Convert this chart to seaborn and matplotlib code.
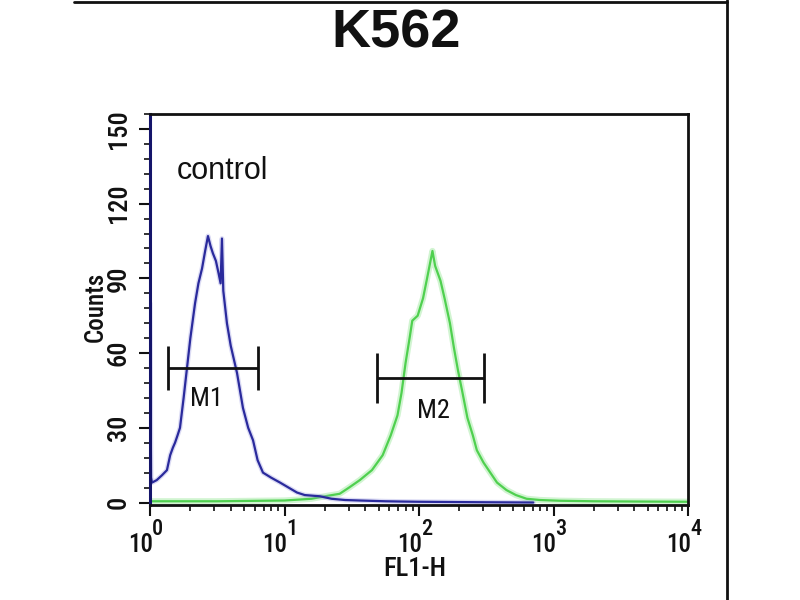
import numpy as np
import pandas as pd
import matplotlib
matplotlib.use("Agg")
import matplotlib.pyplot as plt
from matplotlib import font_manager
from matplotlib.font_manager import FontProperties
from matplotlib.lines import Line2D
from matplotlib.ticker import FixedLocator, AutoMinorLocator, LogLocator, NullFormatter
from matplotlib.transforms import blended_transform_factory, offset_copy
import seaborn as sns

# control histogram (blue), log10 of FL1-H channel and counts
blue_log_fl1 = [0.0, 0.008, 0.015, 0.05, 0.09, 0.126, 0.15, 0.17, 0.186, 0.205, 0.223,
                0.25, 0.275, 0.30, 0.335, 0.36, 0.387, 0.41, 0.431, 0.45, 0.468, 0.49,
                0.51, 0.525, 0.535, 0.545, 0.572, 0.60, 0.647, 0.691, 0.73, 0.766, 0.80,
                0.84, 0.90, 0.967, 1.03, 1.093, 1.15, 1.264, 1.35, 1.45, 1.56, 1.75,
                1.86, 2.0, 2.5, 2.85]
blue_counts = [80, 10, 8, 9, 11, 13, 19, 22, 24, 27, 30,
               42, 54, 66, 80, 88, 94, 101, 107, 103, 100, 97,
               92, 88, 106, 85, 72, 63, 52, 38, 30, 25, 17,
               12, 10, 8, 6, 4, 3, 2.5, 1.5, 1, 0.8, 0.5,
               0.4, 0.3, 0.1, 0]

# sample histogram (green)
green_log_fl1 = [0.0, 0.5, 1.0, 1.2, 1.30, 1.41, 1.48, 1.56, 1.65, 1.73, 1.79, 1.84,
                 1.87, 1.90, 1.93, 1.95, 1.99, 2.03, 2.06, 2.10, 2.12, 2.16, 2.19,
                 2.23, 2.26, 2.29, 2.32, 2.36, 2.40, 2.43, 2.48, 2.53, 2.58, 2.65,
                 2.72, 2.80, 2.9, 3.05, 3.3, 3.6, 4.0]
green_counts = [0.5, 0.5, 0.8, 1.5, 2.5, 3.5, 6, 9, 13, 19, 27, 35,
                44, 56, 66, 73, 75, 82, 90, 101, 95, 89, 82,
                72, 62, 53, 45, 34, 27, 21, 16, 12, 8, 5,
                3, 1.5, 1, 0.7, 0.5, 0.4, 0.3]

# gate markers
marker_names = ["M1", "M2"]
marker_left = [1.36, 48.7]
marker_right = [6.35, 304]
marker_level = [54, 50]
marker_half = [9, 10]
marker_label_x = [2.65, 127]
marker_label_y = [41.5, 36.7]

y_ticks = [0, 30, 60, 90, 120, 150]
x_ticks = [1, 10, 100, 1000, 10000]
x_tick_exponents = ["0", "1", "2", "3", "4"]


def narrow_font(size, weight="Medium"):
    # pick a condensed face if one is installed, else plain Liberation Sans
    wanted = ["RobotoCondensed-" + weight, "LiberationSansNarrow-Regular",
              "RobotoCondensed-Regular", "DejaVuSansCondensed.ttf"]
    files = [f.fname for f in font_manager.fontManager.ttflist]
    for w in wanted:
        for fn in files:
            if w in fn:
                return FontProperties(fname=fn, size=size)
    return FontProperties(family="Liberation Sans", size=size)


sns.set_theme(style="white")
plt.rcParams["font.family"] = ["Liberation Sans", "DejaVu Sans"]

blue_df = pd.DataFrame({"fl1": np.power(10.0, blue_log_fl1), "counts": blue_counts})
green_df = pd.DataFrame({"fl1": np.power(10.0, green_log_fl1), "counts": green_counts})

fig = plt.figure(figsize=(8, 6), dpi=100)
ax = fig.add_axes([150 / 800, 1 - 505 / 600, 538 / 800, 391 / 600])

# green glow then line
sns.lineplot(data=green_df, x="fl1", y="counts", ax=ax, color="#9be89b", lw=4.5,
             alpha=0.45, sort=False, estimator=None)
sns.lineplot(data=green_df, x="fl1", y="counts", ax=ax, color="#4fd04f", lw=1.6,
             sort=False, estimator=None)
sns.lineplot(data=blue_df, x="fl1", y="counts", ax=ax, color="#9a9ae0", lw=3.5,
             alpha=0.35, sort=False, estimator=None)
sns.lineplot(data=blue_df, x="fl1", y="counts", ax=ax, color="#2a2a9c", lw=1.6,
             sort=False, estimator=None)

for i, name in enumerate(marker_names):
    ax.hlines(marker_level[i], marker_left[i], marker_right[i], color="#111111", lw=2)
    ax.vlines([marker_left[i], marker_right[i]], marker_level[i] - marker_half[i],
              marker_level[i] + marker_half[i], color="#111111", lw=2)
    ax.text(marker_label_x[i], marker_label_y[i], name, ha="center", va="center",
            fontproperties=narrow_font(19, "Regular"), color="#111111")

ax.set_xscale("log")
ax.set_xlim(1, 10000)
ax.set_ylim(-1, 156)
ax.xaxis.set_major_locator(FixedLocator(x_ticks))
ax.xaxis.set_minor_locator(LogLocator(base=10, subs=np.arange(2, 10)))
ax.xaxis.set_minor_formatter(NullFormatter())
ax.yaxis.set_major_locator(FixedLocator(y_ticks))
ax.yaxis.set_minor_locator(AutoMinorLocator(5))

ax.tick_params(axis="both", which="major", direction="out", length=8, width=1.5,
               color="#111111", labelcolor="#111111")
ax.tick_params(axis="both", which="minor", direction="out", length=4, width=1.2, color="#111111")
ax.tick_params(axis="x", which="both", bottom=True, labelbottom=False)
ax.tick_params(axis="y", which="both", left=True, pad=6)

ax.set_yticklabels([str(v) for v in y_ticks], fontproperties=narrow_font(19),
                   rotation=90, va="center")

# x tick labels as "10" with a near full size exponent
base_tr = blended_transform_factory(ax.transData, ax.transAxes)
tr_base = offset_copy(base_tr, fig=fig, x=3, y=-47, units="dots")
tr_exp = offset_copy(base_tr, fig=fig, x=2, y=-30, units="dots")
for xt, ex in zip(x_ticks, x_tick_exponents):
    ax.text(xt, 0, "10", transform=tr_base, ha="right", va="baseline",
            fontproperties=narrow_font(18), color="#111111", clip_on=False)
    ax.text(xt, 0, ex, transform=tr_exp, ha="left", va="baseline",
            fontproperties=narrow_font(16), color="#111111", clip_on=False)

ax.set_xlabel("")
ax.set_ylabel("")
for side in ["top", "right", "bottom"]:
    ax.spines[side].set_color("#111111")
    ax.spines[side].set_linewidth(2)
ax.spines["left"].set_color("#14146a")
ax.spines["left"].set_linewidth(2.2)

fig.text(96 / 800, 1 - 307 / 600, "Counts", rotation=90, ha="center", va="center",
         fontproperties=narrow_font(18), color="#111111")
fig.text(415 / 800, 1 - 569 / 600, "FL1-H", ha="center", va="center",
         fontproperties=narrow_font(19), color="#111111")
fig.text(177 / 800, 1 - 171 / 600, "control", ha="left", va="center",
         fontsize=22, color="#111111")
fig.text(396 / 800, 1 - 34 / 600, "K562", ha="center", va="center",
         fontsize=39, fontweight="bold", color="#111111")

# outer frame of the panel
fig.add_artist(Line2D([74 / 800, 727 / 800], [1 - 1.5 / 600, 1 - 1.5 / 600],
                      transform=fig.transFigure, color="#111111", lw=2))
fig.add_artist(Line2D([727 / 800, 727 / 800], [0, 1], transform=fig.transFigure,
                      color="#111111", lw=2))

fig.savefig("out.png", dpi=100)
